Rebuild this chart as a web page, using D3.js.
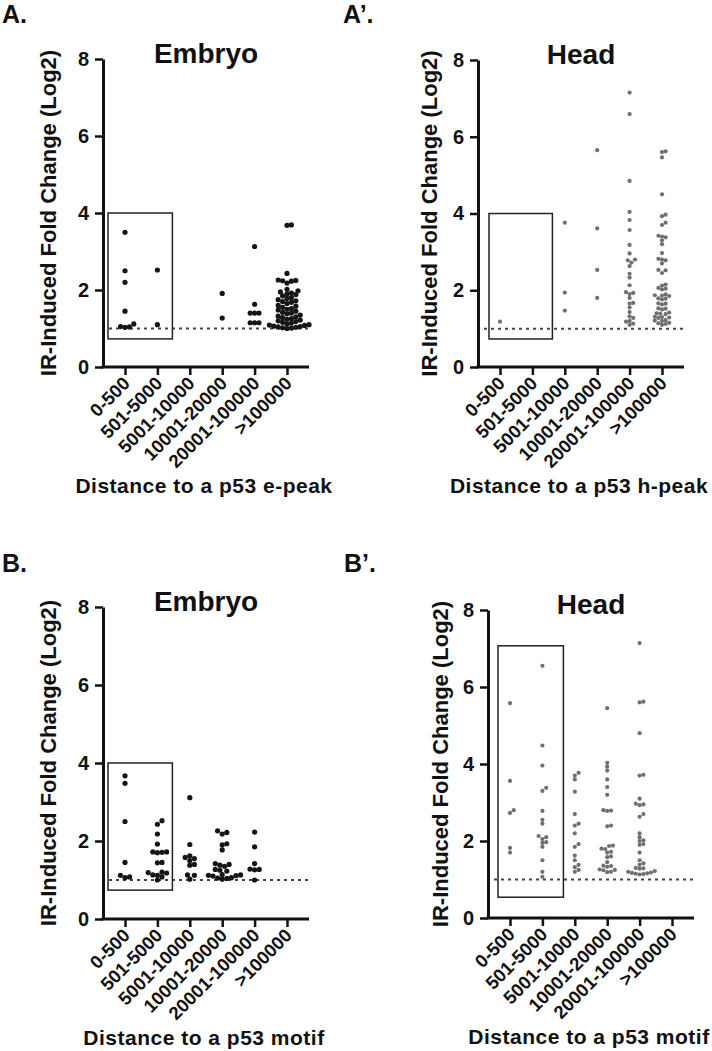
<!doctype html>
<html lang='en'>
<head>
<meta charset='UTF-8'>
<title>IR-induced fold change</title>
<style>
  body { margin: 0; background: #fff; }
  text { font-family: 'Liberation Sans', Arial, sans-serif; font-weight: bold; fill: #111; }
  .axis line, .axis path { stroke: #111; }
</style>
</head>
<body>
<script src='https://d3js.org/d3.v7.min.js'></script>
<script>
  const categories = ['0-500', '501-5000', '5001-10000', '10001-20000', '20001-100000', '>100000']
  const yTicks = [0, 2, 4, 6, 8]

  // A. Embryo, distance to a p53 e-peak
  const embryoPeak = [
    [3.5, 2.5, 2.2, 1.45, 1.12, 1.05, 1.04, 1.03],
    [2.52, 1.1],
    [],
    [1.91, 1.27],
    [3.13, 1.63, 1.4, 1.4, 1.4, 1.15, 1.15, 1.15],
    [3.69, 3.68, 2.43, 2.26, 2.25, 2.24, 2.23, 2.18, 2.02, 1.98, 1.95, 1.92, 1.9, 1.88, 1.85, 1.8, 1.78, 1.75,
     1.72, 1.7, 1.68, 1.65, 1.6, 1.58, 1.55, 1.52, 1.5, 1.48, 1.45, 1.42, 1.4, 1.38, 1.35, 1.32, 1.3, 1.28,
     1.26, 1.24, 1.22, 1.2, 1.18, 1.16, 1.14, 1.12, 1.1, 1.09, 1.08, 1.06, 1.05, 1.04, 1.03, 1.02, 1.01, 1.0]
  ]

  // A'. Head, distance to a p53 h-peak
  const headPeak = [
    [1.18],
    [],
    [3.76, 1.94, 1.47],
    [5.65, 3.61, 2.53, 1.8],
    [7.15, 6.59, 4.85, 4.04, 3.83, 3.57, 3.18, 2.96, 2.8, 2.78, 2.72, 2.63, 2.43, 2.33, 2.13, 1.95, 1.93,
     1.9, 1.8, 1.67, 1.65, 1.55, 1.43, 1.32, 1.28, 1.2, 1.18, 1.13, 1.1],
    [5.62, 5.6, 5.46, 4.5, 3.97, 3.93, 3.76, 3.7, 3.42, 3.4, 3.38, 3.3, 3.2, 2.97, 2.82, 2.8, 2.78, 2.7,
     2.53, 2.52, 2.45, 2.15, 2.12, 2.06, 2.04, 2.02, 1.89, 1.87, 1.86, 1.85, 1.79, 1.78, 1.76, 1.66, 1.65,
     1.63, 1.53, 1.52, 1.5, 1.42, 1.4, 1.39, 1.38, 1.31, 1.3, 1.29, 1.28, 1.22, 1.21, 1.2, 1.15, 1.14, 1.12, 1.1]
  ]

  // B. Embryo, distance to a p53 motif
  const embryoMotif = [
    [3.67, 3.48, 2.5, 1.45, 1.12, 1.08, 1.06],
    [2.52, 2.43, 2.18, 1.92, 1.72, 1.72, 1.71, 1.7, 1.45, 1.44, 1.2, 1.19, 1.18, 1.13, 1.12, 1.08, 1.0],
    [3.11, 1.91, 1.62, 1.58, 1.55, 1.5, 1.4, 1.38, 1.13, 1.12, 1.02],
    [2.26, 2.22, 2.18, 1.93, 1.9, 1.77, 1.42, 1.4, 1.38, 1.35, 1.27, 1.25, 1.23, 1.14, 1.13, 1.12, 1.11,
     1.1, 1.06, 1.05, 1.04, 1.02],
    [2.23, 1.85, 1.42, 1.28, 1.27, 1.26, 1.0],
    []
  ]

  // B'. Head, distance to a p53 motif
  const headMotif = [
    [5.58, 3.56, 2.8, 2.73, 1.82, 1.7],
    [6.55, 4.48, 3.96, 3.38, 3.3, 2.78, 2.55, 2.45, 2.13, 2.1, 2.05, 1.97, 1.95, 1.85, 1.5, 1.2, 1.07],
    [3.77, 3.7, 3.6, 3.28, 2.7, 2.45, 2.4, 2.2, 1.92, 1.85, 1.62, 1.5, 1.38, 1.32, 1.25, 1.2],
    [5.45, 4.03, 3.93, 3.83, 3.6, 3.4, 3.2, 2.8, 2.79, 2.78, 2.4, 2.38, 1.88, 1.87, 1.8, 1.79, 1.72, 1.7,
     1.6, 1.58, 1.45, 1.36, 1.35, 1.33, 1.26, 1.25, 1.24, 1.2, 1.19],
    [7.14, 5.62, 5.6, 4.8, 3.72, 3.7, 3.1, 2.97, 2.95, 2.93, 2.7, 2.63, 2.2, 2.1, 2.02, 2.0, 1.92, 1.9,
     1.7, 1.5, 1.42, 1.38, 1.3, 1.29, 1.28, 1.22, 1.2, 1.18, 1.17, 1.16, 1.15, 1.14, 1.13],
    []
  ]

  const threshold = 1

  const panels = [
    { letter: 'A.', lx: 2, ly: 23, title: 'Embryo', xTitle: 'Distance to a p53 e-peak', data: embryoPeak,
      x0: 103, top: 59, bottom: 367, labX: 48, color: '#151515', r: 2.6, gap: 4.4,
      box: { v0: 0.73, v1: 4, left: 17, right: 15 } },
    { letter: 'A\u2019.', lx: 343, ly: 23, title: 'Head', xTitle: 'Distance to a p53 h-peak', data: headPeak,
      x0: 478, top: 60, bottom: 367, labX: 429, color: '#707070', r: 2.1, gap: 3.6,
      box: { v0: 0.73, v1: 4, left: 11, right: 20 } },
    { letter: 'B.', lx: 2, ly: 572, title: 'Embryo', xTitle: 'Distance to a p53 motif', data: embryoMotif,
      x0: 103, top: 607, bottom: 919, labX: 48, color: '#151515', r: 2.6, gap: 4.6,
      box: { v0: 0.74, v1: 4, left: 17, right: 15 } },
    { letter: 'B\u2019.', lx: 344, ly: 572, title: 'Head', xTitle: 'Distance to a p53 motif', data: headMotif,
      x0: 488, top: 610, bottom: 918, labX: 440, color: '#707070', r: 2.1, gap: 3.8,
      box: { v0: 0.54, v1: 7.07, left: 12, right: 21 } }
  ]

  const svg = d3.select('body').append('svg')
    .attr('width', 712)
    .attr('height', 1051)

  // simple dot-plot spreading: each point takes the nearest free offset
  function swarm (values, xc, yScale, gap) {
    const placed = []
    values.slice().sort((a, b) => a - b).forEach(v => {
      const y = yScale(v)
      for (let k = 0; k < 60; k++) {
        const off = k === 0 ? 0 : (k % 2 ? 1 : -1) * Math.ceil(k / 2) * gap * 0.5
        const x = xc + off
        const hit = placed.some(p => (p.x - x) ** 2 + (p.y - y) ** 2 < gap * gap)
        if (!hit) { placed.push({ x, y }); break }
      }
    })
    return placed
  }

  panels.forEach(p => {
    const w = 206
    const g = svg.append('g')

    const y = d3.scaleLinear().domain([0, 8]).range([p.bottom, p.top])
    const x = d3.scalePoint().domain(categories).range([p.x0 + 22, p.x0 + 184])

    g.append('text')
      .attr('x', p.lx).attr('y', p.ly)
      .style('font-size', '25px')
      .text(p.letter)

    g.append('text')
      .attr('x', p.x0 + w / 2).attr('y', p.top + 4)
      .attr('text-anchor', 'middle')
      .style('font-size', '28px')
      .text(p.title)

    // y axis
    const ya = g.append('g')
      .attr('class', 'axis')
      .attr('transform', `translate(${p.x0},0)`)
      .call(d3.axisLeft(y).tickValues(yTicks).tickSize(8).tickSizeOuter(0).tickPadding(6))
    ya.select('.domain').attr('stroke-width', 3)
    ya.selectAll('.tick line').attr('stroke-width', 2.5)
    ya.selectAll('.tick text')
      .style('font-size', '20px')
      .attr('fill', '#111')

    g.append('text')
      .attr('transform', `translate(${p.labX},${(p.top + p.bottom) / 2}) rotate(-90)`)
      .attr('text-anchor', 'middle')
      .attr('dy', '0.35em')
      .style('font-size', '22px')
      .text('IR-Induced Fold Change (Log2)')

    // x axis
    const xa = g.append('g')
      .attr('class', 'axis')
      .attr('transform', `translate(0,${p.bottom})`)
      .call(d3.axisBottom(x).tickSize(8).tickSizeOuter(0))
    xa.select('.domain').remove()
    xa.selectAll('.tick line').attr('stroke-width', 2.5)
    xa.selectAll('.tick text')
      .style('font-size', '18.5px')
      .attr('fill', '#111')
      .attr('text-anchor', 'end')
      .attr('y', 0)
      .attr('dy', '0.35em')
      .attr('transform', 'translate(1,13) rotate(-45)')

    g.append('line')
      .attr('x1', p.x0 - 1.5).attr('x2', p.x0 + w)
      .attr('y1', p.bottom).attr('y2', p.bottom)
      .attr('stroke', '#111').attr('stroke-width', 3)

    g.append('text')
      .attr('x', p.x0 + w / 2 - 2).attr('y', p.bottom + 126)
      .attr('text-anchor', 'middle')
      .style('font-size', '21px')
      .style('letter-spacing', '0.5px')
      .text(p.xTitle)

    // threshold
    g.append('line')
      .attr('x1', p.x0 + 6).attr('x2', p.x0 + w)
      .attr('y1', y(threshold)).attr('y2', y(threshold))
      .attr('stroke', '#444').attr('stroke-width', 2)
      .attr('stroke-dasharray', '3,4')

    // highlight box
    g.append('rect')
      .attr('x', x(categories[0]) - p.box.left)
      .attr('y', y(p.box.v1))
      .attr('width', x(categories[1]) + p.box.right - (x(categories[0]) - p.box.left))
      .attr('height', y(p.box.v0) - y(p.box.v1))
      .attr('fill', 'none')
      .attr('stroke', '#222')
      .attr('stroke-width', 1.5)

    // points
    p.data.forEach((vals, i) => {
      const pts = swarm(vals, x(categories[i]), y, p.gap)
      g.append('g').selectAll('circle')
        .data(pts)
        .enter()
        .append('circle')
        .attr('cx', d => d.x)
        .attr('cy', d => d.y)
        .attr('r', p.r)
        .attr('fill', p.color)
    })
  })
</script>
</body>
</html>
